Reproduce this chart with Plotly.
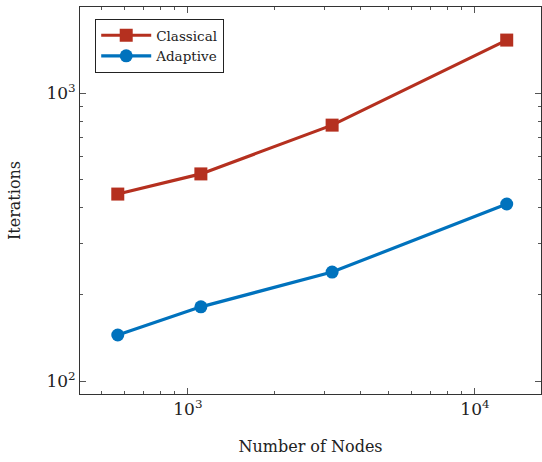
import plotly.graph_objects as go
import numpy as np

nodes = [570, 1110, 3180, 12900]
classical = [446, 524, 774, 1528]
adaptive = [144.5, 181, 239, 412]
series_names = ["Classical", "Adaptive"]
x_tick_vals = [1000, 10000]
x_tick_text = ["10<sup>3</sup>", "10<sup>4</sup>"]
y_tick_vals = [100, 1000]
y_tick_text = ["10<sup>2</sup>", "10<sup>3</sup>"]

red = "#B5301F"
blue = "#0072BD"
font = "DejaVu Serif"

fig = go.Figure()
fig.add_trace(go.Scatter(x=nodes, y=classical, name=series_names[0], mode="lines+markers",
                         line=dict(color=red, width=3.2),
                         marker=dict(symbol="square", size=13, color=red)))
fig.add_trace(go.Scatter(x=nodes, y=adaptive, name=series_names[1], mode="lines+markers",
                         line=dict(color=blue, width=3.2),
                         marker=dict(symbol="circle", size=13, color=blue)))

x_minor = [v * m for v in [100, 1000, 10000] for m in range(2, 10) if 420 < v * m < 17000]
y_minor = [v * m for v in [10, 100, 1000] for m in range(2, 10) if 90 < v * m < 2000]

axis_common = dict(type="log", showline=True, linecolor="#333", linewidth=1, mirror="ticks",
                   ticks="inside", ticklen=6, tickcolor="#555", tickwidth=1, showgrid=False,
                   zeroline=False, tickfont=dict(family=font, size=17, color="#222"))

fig.update_xaxes(range=[np.log10(421), np.log10(16982)], tickvals=x_tick_vals, ticktext=x_tick_text,
                 minor=dict(tickvals=x_minor, ticks="inside", ticklen=3, tickcolor="#555", showgrid=False),
                 title=dict(text="Number of Nodes", font=dict(family=font, size=16, color="#222"), standoff=22),
                 **axis_common)
fig.update_yaxes(range=[1.955, 3.299], tickvals=y_tick_vals, ticktext=y_tick_text,
                 minor=dict(tickvals=y_minor, ticks="inside", ticklen=3, tickcolor="#555", showgrid=False),
                 title=dict(text="Iterations", font=dict(family=font, size=16, color="#222"), standoff=21),
                 **axis_common)

fig.update_layout(width=542, height=462, margin=dict(l=80, r=1, t=7, b=68),
                  plot_bgcolor="white", paper_bgcolor="white",
                  legend=dict(x=0.033, y=0.969, xanchor="left", yanchor="top",
                              bordercolor="#222", borderwidth=1, bgcolor="white",
                              font=dict(family=font, size=13.5, color="#222"),
                              itemwidth=50, tracegroupgap=6),
                  showlegend=True)

fig.write_html("out.html")
